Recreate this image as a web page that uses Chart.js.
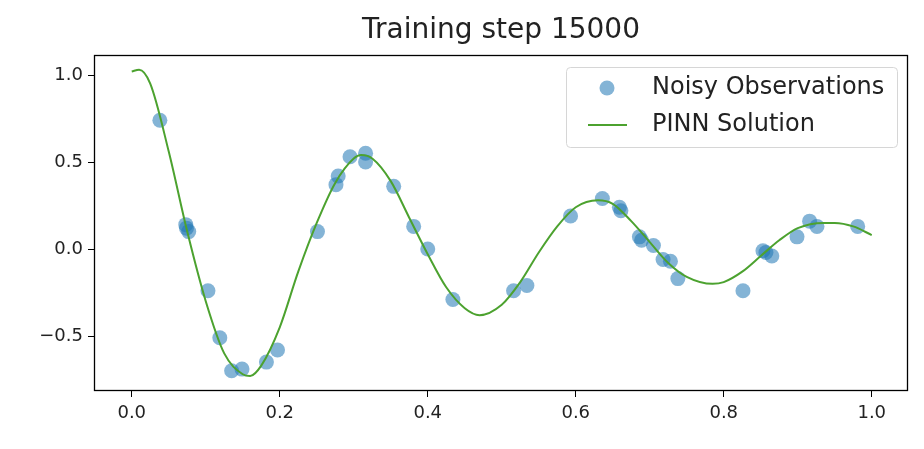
<!DOCTYPE html>
<html>
<head>
<meta charset="utf-8">
<script src="https://cdn.jsdelivr.net/npm/chart.js@4"></script>
<style>
body { margin: 0; background: #fff; }
#wrap { width: 924px; height: 449px; }
</style>
</head>
<body>
<div id="wrap"><canvas id="c"></canvas></div>
<script>
// observations
var obsX = [0.038, 0.073, 0.074, 0.077, 0.103, 0.119, 0.135, 0.149, 0.182, 0.197, 0.251, 0.276, 0.279, 0.295, 0.316, 0.316, 0.354, 0.381, 0.400, 0.434,
            0.516, 0.534, 0.593, 0.636, 0.659, 0.661, 0.686, 0.689, 0.705, 0.718, 0.728, 0.738, 0.826, 0.853, 0.857, 0.865, 0.899, 0.916, 0.926, 0.981];
var obsY = [0.74, 0.14, 0.12, 0.10, -0.24, -0.51, -0.70, -0.69, -0.65, -0.58, 0.10, 0.37, 0.42, 0.53, 0.55, 0.50, 0.36, 0.13, 0.00, -0.29,
            -0.24, -0.21, 0.19, 0.29, 0.24, 0.22, 0.07, 0.05, 0.02, -0.06, -0.07, -0.17, -0.24, -0.01, -0.02, -0.04, 0.07, 0.16, 0.13, 0.13];

// PINN solution curve
var solX = [0, 0.01, 0.025, 0.05, 0.075, 0.1, 0.125, 0.15, 0.16, 0.175, 0.2, 0.225, 0.25, 0.275, 0.3, 0.31, 0.325, 0.35, 0.375, 0.4, 0.425, 0.45, 0.47,
            0.5, 0.525, 0.55, 0.575, 0.6, 0.63, 0.65, 0.675, 0.7, 0.725, 0.75, 0.785, 0.8, 0.825, 0.85, 0.875, 0.9, 0.935, 0.95, 0.975, 1.0];
var solY = [1.02, 1.03, 0.95, 0.56, 0.10, -0.30, -0.60, -0.72, -0.73, -0.67, -0.45, -0.13, 0.15, 0.38, 0.52, 0.54, 0.52, 0.39, 0.18, -0.03, -0.22, -0.34, -0.38,
            -0.32, -0.19, -0.02, 0.13, 0.24, 0.28, 0.26, 0.16, 0.04, -0.08, -0.16, -0.20, -0.19, -0.13, -0.04, 0.05, 0.12, 0.15, 0.15, 0.13, 0.08];

var xTicks = [0.0, 0.2, 0.4, 0.6, 0.8, 1.0];
var yTicks = [-0.5, 0.0, 0.5, 1.0];
var titleText = 'Training step 15000';

function pts(xs, ys) {
    return xs.map(function (x, i) { return { x: x, y: ys[i] }; });
}

var FONT = 'DejaVu Sans';
var blue = 'rgba(31, 119, 180, 0.55)';
var green = '#4ca22f';

// frame, title and legend in matplotlib style
var decor = {
    id: 'decor',
    afterDraw: function (chart) {
        var c = chart.ctx, a = chart.chartArea;
        c.save();
        c.strokeStyle = '#000';
        c.lineWidth = 1.3;
        c.strokeRect(a.left + 0.5, a.top + 0.5, a.right - a.left - 1, a.bottom - a.top - 1);
        c.fillStyle = '#222';
        c.font = '28px ' + FONT;
        c.textAlign = 'center';
        c.textBaseline = 'middle';
        c.fillText(titleText, (a.left + a.right) / 2, 31);
        // legend box
        var lx = 566, ly = 67, lw = 331, lh = 80;
        c.fillStyle = 'rgba(255,255,255,0.8)';
        c.strokeStyle = '#d6d6d6';
        c.lineWidth = 1;
        c.beginPath();
        c.roundRect(lx + 0.5, ly + 0.5, lw, lh, 4);
        c.fill();
        c.stroke();
        c.fillStyle = blue;
        c.beginPath();
        c.arc(607, 88, 7.5, 0, Math.PI * 2);
        c.fill();
        c.strokeStyle = green;
        c.lineWidth = 2;
        c.beginPath();
        c.moveTo(588, 125);
        c.lineTo(627, 125);
        c.stroke();
        c.fillStyle = '#222';
        c.font = '24px ' + FONT;
        c.textAlign = 'left';
        c.fillText('Noisy Observations', 652, 88);
        c.fillText('PINN Solution', 652, 125);
        c.restore();
    }
};

var ctx = document.getElementById('c').getContext('2d');
var chart = new Chart(ctx, {
    type: 'scatter',
    data: {
        datasets: [{
            label: 'Noisy Observations',
            data: pts(obsX, obsY),
            backgroundColor: blue,
            borderWidth: 0,
            pointRadius: 7.5,
            order: 2
        }, {
            type: 'line',
            label: 'PINN Solution',
            data: pts(solX, solY),
            borderColor: green,
            borderWidth: 2,
            pointRadius: 0,
            cubicInterpolationMode: 'monotone',
            fill: false,
            order: 1
        }]
    },
    plugins: [decor],
    options: {
        responsive: true,
        maintainAspectRatio: false,
        animation: false,
        layout: { padding: { top: 55, right: 16, left: 0, bottom: 0 } },
        plugins: { legend: { display: false }, tooltip: { enabled: false } },
        scales: {
            x: {
                type: 'linear', min: -0.051, max: 1.049,
                afterBuildTicks: function (s) { s.ticks = xTicks.map(function (v) { return { value: v }; }); },
                afterFit: function (s) { s.height = 58; },
                grid: { drawOnChartArea: false, color: '#000', tickLength: 6 },
                border: { display: false },
                ticks: { color: '#222', font: { family: FONT, size: 18 }, padding: 6,
                         callback: function (v) { return v.toFixed(1); } }
            },
            y: {
                type: 'linear', min: -0.816, max: 1.115,
                afterBuildTicks: function (s) { s.ticks = yTicks.map(function (v) { return { value: v }; }); },
                afterFit: function (s) { s.width = 94; },
                grid: { drawOnChartArea: false, color: '#000', tickLength: 6 },
                border: { display: false },
                ticks: { color: '#222', font: { family: FONT, size: 18 }, padding: 5,
                         callback: function (v) { return v < 0 ? '\u2212' + Math.abs(v).toFixed(1) : v.toFixed(1); } }
            }
        }
    }
});
</script>
</body>
</html>
